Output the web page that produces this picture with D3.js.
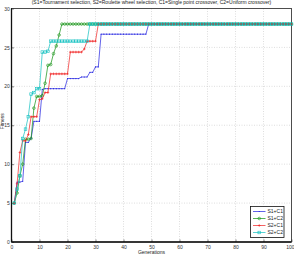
<!DOCTYPE html>
<html>
<head>
<meta charset="utf-8">
<script src="https://cdn.jsdelivr.net/npm/d3@7"></script>
<style>
  body { margin: 0; background: #fff; }
  svg { display: block; font-family: "Liberation Sans", Arial, sans-serif; }
</style>
</head>
<body>
<div class="chart"></div>
<script>
// generations 1..100, fitness of best individual
const generations = d3.range(1, 101)

const s1c1 = [5, 7.7, 7.7, 7.8, 12.8, 12.8, 13.3, 15.5, 15.5, 15.5,
  19.6, 19.7, 19.7, 19.7, 19.7, 19.7, 19.7, 19.7, 19.7, 21.0,
  21.0, 21.0, 21.0, 21.0, 21.2, 21.2, 21.2, 21.8, 21.8, 22.5,
  22.5, 26.7, 26.7, 26.7, 26.7, 26.7, 26.7, 26.7, 26.7, 26.7,
  26.7, 26.7, 26.7, 26.7, 26.7, 26.7, 26.7, 26.7]
const s1c2 = [5, 6.3, 8.5, 10.0, 13.2, 13.2, 13.3, 17.2, 18.7, 18.7,
  18.8, 20.4, 22.7, 22.8, 24.2, 25.2, 26.6]
const s2c1 = [5, 7.5, 11.5, 13.0, 13.0, 13.8, 16.1, 16.1, 16.1, 18.3,
  18.4, 19.2, 19.2, 21.6, 21.6, 21.6, 21.6, 21.6, 21.6, 21.6,
  24.4, 24.4, 24.4, 24.4, 24.4, 24.8, 25.8, 25.8, 25.8, 25.8]
const s2c2 = [5, 6.8, 8.5, 13.3, 14.5, 16.1, 19.0, 19.2, 19.7, 19.7,
  24.4, 24.4, 24.5, 25.8, 25.8, 25.8, 25.8, 25.8, 25.8, 25.8,
  25.8, 25.8, 25.8, 25.8, 25.8, 25.8, 25.8]
// once converged every run stays at the optimum
const optimum = 28

const seriesNames = ["S1+C1", "S1+C2", "S2+C1", "S2+C2"]
const seriesColors = ["#2020e0", "#109010", "#f02020", "#10c0c0"]
const seriesMarkers = ["dot", "circle", "plus", "square"]
const xTicks = d3.range(0, 101, 10)
const yTicks = d3.range(0, 31, 5)

const title = "(S1=Tournament selection, S2=Roulette wheel selection, C1=Single point crossover, C2=Uniform crossover)"

const fill = arr => generations.map((g, i) => ({ g: g, v: i < arr.length ? arr[i] : optimum }))
const series = [s1c1, s1c2, s2c1, s2c2].map((arr, i) => ({
  name: seriesNames[i], color: seriesColors[i], marker: seriesMarkers[i], values: fill(arr)
}))

const width = 294, height = 263
const margin = { top: 8.5, right: 2.5, bottom: 21, left: 11.5 }
const w = width - margin.left - margin.right
const h = height - margin.top - margin.bottom

const svg = d3.select(".chart").append("svg")
    .attr("width", width)
    .attr("height", height)

const g = svg.append("g")
    .attr("transform", `translate(${margin.left},${margin.top})`)

const xScale = d3.scaleLinear().domain([0, 100]).range([0, w])
const yScale = d3.scaleLinear().domain([0, 30]).range([h, 0])

// grid
g.append("g").selectAll("line")
  .data(xTicks.slice(1, -1))
  .join("line")
    .attr("x1", d => xScale(d)).attr("x2", d => xScale(d))
    .attr("y1", 0).attr("y2", h)
    .attr("stroke", "#c8c8c8").attr("stroke-width", 0.6)
    .attr("stroke-dasharray", "1,1.5")
g.append("g").selectAll("line")
  .data(yTicks.slice(1, -1))
  .join("line")
    .attr("y1", d => yScale(d)).attr("y2", d => yScale(d))
    .attr("x1", 0).attr("x2", w)
    .attr("stroke", "#c8c8c8").attr("stroke-width", 0.6)
    .attr("stroke-dasharray", "1,1.5")

// axes (ticks pointing inward)
const xAxis = d3.axisBottom(xScale).tickValues(xTicks).tickSize(-2.5).tickPadding(3)
const yAxis = d3.axisLeft(yScale).tickValues(yTicks).tickSize(-2.5).tickPadding(1.8)

const xGroup = g.append("g")
    .attr("transform", `translate(0,${h})`)
    .call(xAxis)
const yGroup = g.append("g").call(yAxis)

;[xGroup, yGroup].forEach(ax => {
  ax.select(".domain").remove()
  ax.selectAll("text").attr("font-size", 5).attr("fill", "#333").attr("font-family", null)
  ax.selectAll("line").attr("stroke", "#333").attr("stroke-width", 0.6)
})
// keep the last label inside the window
xGroup.selectAll(".tick text").filter(d => d == 100).attr("text-anchor", "end").attr("dx", 2.5)

// frame
g.append("rect")
    .attr("width", w).attr("height", h)
    .attr("fill", "none").attr("stroke", "#222").attr("stroke-width", 0.8)
g.append("line").attr("x1", 0).attr("x2", 0).attr("y1", 0).attr("y2", h)
    .attr("stroke", "#111").attr("stroke-width", 1.3)
g.append("line").attr("x1", 0).attr("x2", w).attr("y1", h).attr("y2", h)
    .attr("stroke", "#111").attr("stroke-width", 1.3)

const line = d3.line()
    .x(d => xScale(d.g))
    .y(d => yScale(d.v))

function drawMarker(sel, type, color, size) {
  if (type == "circle") {
    sel.append("circle").attr("r", size).attr("fill", "none")
      .attr("stroke", color).attr("stroke-width", 0.6)
  } else if (type == "square") {
    sel.append("rect").attr("x", -size).attr("y", -size)
      .attr("width", size * 2).attr("height", size * 2)
      .attr("fill", "none").attr("stroke", color).attr("stroke-width", 0.6)
  } else if (type == "plus") {
    sel.append("path").attr("d", `M${-size},0H${size}M0,${-size}V${size}`)
      .attr("stroke", color).attr("stroke-width", 0.6)
  } else {
    sel.append("circle").attr("r", size * 0.45).attr("fill", color)
  }
}

series.forEach(s => {
  const sg = g.append("g")
  sg.append("path")
      .datum(s.values)
      .attr("fill", "none")
      .attr("stroke", s.color)
      .attr("stroke-width", 0.7)
      .attr("d", line)
  sg.selectAll("g.pt")
    .data(s.values)
    .join("g")
      .attr("class", "pt")
      .attr("transform", d => `translate(${xScale(d.g)},${yScale(d.v)})`)
      .each(function() { drawMarker(d3.select(this), s.marker, s.color, 1.3) })
})

// legend
const lx = 250.5, ly = 206.5, lw = 33.5, lh = 31
const legend = svg.append("g").attr("transform", `translate(${lx},${ly})`)
legend.append("rect").attr("width", lw).attr("height", lh)
    .attr("fill", "#fff").attr("stroke", "#111").attr("stroke-width", 0.8)
series.forEach((s, i) => {
  const row = legend.append("g").attr("transform", `translate(0,${5 + i * 7})`)
  row.append("line").attr("x1", 2.5).attr("x2", 15).attr("stroke", s.color).attr("stroke-width", 0.7)
  drawMarker(row.append("g").attr("transform", "translate(8.75,0)"), s.marker, s.color, 1.3)
  row.append("text").attr("x", 17).attr("y", 1.8)
      .attr("font-size", 5).attr("fill", "#222").text(s.name)
})

// titles
svg.append("text")
    .attr("x", margin.left + w / 2).attr("y", 4)
    .attr("text-anchor", "middle").attr("font-size", 5).attr("fill", "#222")
    .text(title)
svg.append("text")
    .attr("x", margin.left + w / 2).attr("y", 254)
    .attr("text-anchor", "middle").attr("font-size", 5).attr("fill", "#222")
    .text("Generations")
svg.append("text")
    .attr("transform", `translate(4.2,${margin.top + h / 2 - 4}) rotate(-90)`)
    .attr("text-anchor", "middle").attr("font-size", 5).attr("fill", "#222")
    .text("Fitness")
</script>
</body>
</html>
